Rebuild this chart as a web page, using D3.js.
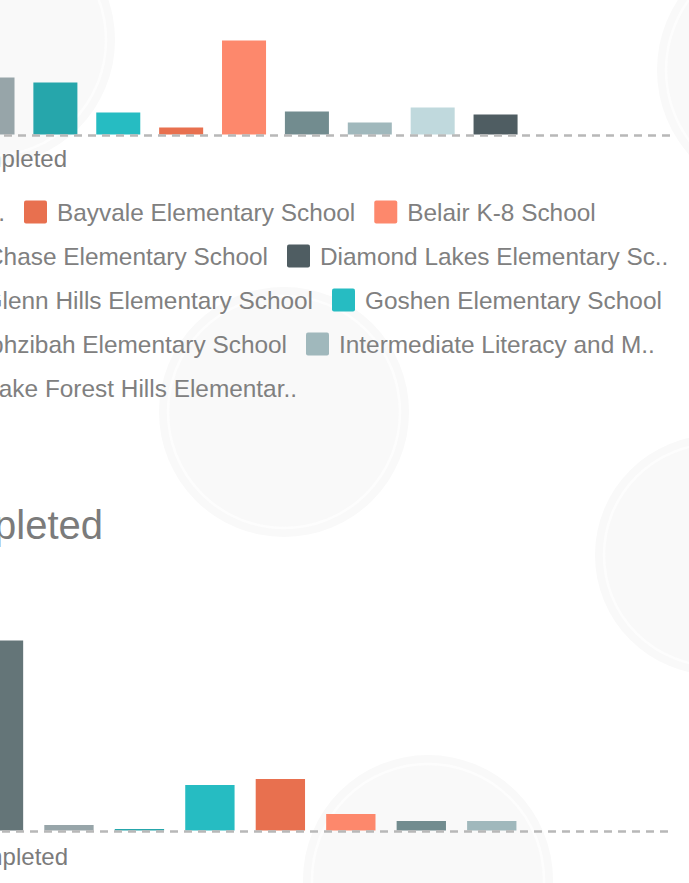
<html lang="en">
<head>
<meta charset="utf-8">
<title>Completed by School</title>
<style>
	body {
		margin: 0;
		background-color: white;
		font-family: "Liberation Sans", Arial, Helvetica, sans-serif;
		overflow: hidden;
	}
	.axis-title { font-size: 24px; fill: #7b7b7b; }
	.chart-title { font-size: 40px; fill: #7b7b7b; }
	.legend text { font-size: 24.4px; fill: #808080; }
	.baseline { stroke: #b8b8b8; stroke-width: 2.6px; stroke-dasharray: 8,6; }
</style>
</head>
<body>
<div id="dash"></div>
<script src="https://d3js.org/d3.v7.min.js"></script>
<script>

// schools, in legend order (the colour scale cycles through the palette)
var schools = [
	"Barton Chapel Road Elementary School",
	"Bayvale Elementary School",
	"Belair K-8 School",
	"Blythe Elementary School",
	"Copeland Elementary School",
	"Deer Chase Elementary School",
	"Diamond Lakes Elementary School",
	"Freedom Park School",
	"Garrett Elementary School",
	"Glenn Hills Elementary School",
	"Goshen Elementary School",
	"Gracewood Elementary School",
	"Hephzibah Elementary School",
	"Hornsby Elementary School",
	"Intermediate Literacy and Math Academy",
	"Jamestown Elementary School",
	"Lake Forest Hills Elementary School"
];

// top chart: bars that can be read
var topSchools = [
	"Garrett Elementary School",
	"Glenn Hills Elementary School",
	"Goshen Elementary School",
	"Gracewood Elementary School",
	"Hephzibah Elementary School",
	"Hornsby Elementary School",
	"Intermediate Literacy and Math Academy",
	"Jamestown Elementary School",
	"Lake Forest Hills Elementary School"
];
var topValues = [57, 52, 22, 7, 94, 23, 12, 27, 20];

// bottom chart
var bottomDomain = schools.slice(0, 15);
var bottomSchools = [
	"Freedom Park School",
	"Garrett Elementary School",
	"Glenn Hills Elementary School",
	"Goshen Elementary School",
	"Gracewood Elementary School",
	"Hephzibah Elementary School",
	"Hornsby Elementary School",
	"Intermediate Literacy and Math Academy"
];
var bottomValues = [190, 5.5, 1.5, 45.5, 51.5, 16.5, 9.5, 9.5];

// legend rows as wrapped on the page
var legendRows = [
	["Barton Chapel Road Elementary School", "Bayvale Elementary School", "Belair K-8 School"],
	["Deer Chase Elementary School", "Diamond Lakes Elementary School"],
	["Glenn Hills Elementary School", "Goshen Elementary School"],
	["Hephzibah Elementary School", "Intermediate Literacy and Math Academy"],
	["Lake Forest Hills Elementary School"]
];

var palette = ["#26bcc2", "#e8704f", "#fd886c", "#728c8f", "#a0b8bc",
               "#c0d9dd", "#4f5d62", "#647578", "#97a5a9", "#26a6ab"];

var width = 689;
var height = 883;

var color = d3.scaleOrdinal().domain(schools).range(palette);

var svg = d3.select("#dash")
	.append("svg")
	.attr("width", width)
	.attr("height", height);

// faint background rings
var rings = [[-10, 40, 125], [785, 70, 128], [284, 412, 125], [715, 555, 120], [428, 880, 125]];
var deco = svg.append("g");
rings.forEach(function(r){
	deco.append("circle").attr("cx", r[0]).attr("cy", r[1]).attr("r", r[2])
		.attr("fill", "#f9f9f9");
	deco.append("circle").attr("cx", r[0]).attr("cy", r[1]).attr("r", r[2] - 9)
		.attr("fill", "none").attr("stroke", "#fdfdfd").attr("stroke-width", 2.5);
});

function shortName(s){
	return s.length > 29 ? s.slice(0, 27) + ".." : s;
}

function barChart(g, domain, names, values, xr, yr, ymax, lineEnd){
	var x = d3.scaleBand().domain(domain).range(xr).paddingInner(0.3).paddingOuter(0.15);
	var y = d3.scaleLinear().domain([0, ymax]).range(yr);

	g.selectAll("rect")
		.data(names)
		.enter()
		.append("rect")
		.attr("x", function(d){ return x(d); })
		.attr("width", x.bandwidth())
		.attr("y", function(d, i){ return y(values[i]); })
		.attr("height", function(d, i){ return y(0) - y(values[i]); })
		.attr("fill", function(d){ return color(d); });

	g.append("line")
		.attr("class", "baseline")
		.attr("x1", xr[0]).attr("x2", lineEnd)
		.attr("y1", y(0) + 1).attr("y2", y(0) + 1);
}

// top chart
var top_g = svg.append("g");
barChart(top_g, schools, topSchools, topValues, [-542, 527], [134.5, 34.5], 100, 672);

svg.append("text")
	.attr("class", "axis-title")
	.attr("x", 67).attr("y", 167)
	.attr("text-anchor", "end")
	.text("Lessons Completed");

// legend
var legend = svg.append("g").attr("class", "legend");
var rowEnds = [5, 268, 313, 287, 297];

legendRows.forEach(function(row, r){
	var ty = 221 + r * 44;
	var cursor = rowEnds[r];
	row.forEach(function(name, k){
		var item = legend.append("g");
		var t = item.append("text").attr("y", ty).text(shortName(name));
		var w = t.node().getComputedTextLength();
		var sx;
		if(k === 0){
			t.attr("x", cursor).attr("text-anchor", "end");
			sx = cursor - w - 33;
		}else{
			sx = cursor + 19;
			t.attr("x", sx + 33);
			cursor = sx + 33 + w;
		}
		item.append("rect")
			.attr("x", sx).attr("y", ty - 20.5)
			.attr("width", 23).attr("height", 23)
			.attr("rx", 2)
			.attr("fill", color(name));
	});
});

// bottom chart
svg.append("text")
	.attr("class", "chart-title")
	.attr("x", 103).attr("y", 539)
	.attr("text-anchor", "end")
	.text("Units Completed");

var bottom_g = svg.append("g");
barChart(bottom_g, bottomDomain, bottomSchools, bottomValues, [-530, 527], [830.5, 630.5], 200, 672);

svg.append("text")
	.attr("class", "axis-title")
	.attr("x", 68).attr("y", 865)
	.attr("text-anchor", "end")
	.text("Units Completed");

</script>
</body>
</html>
